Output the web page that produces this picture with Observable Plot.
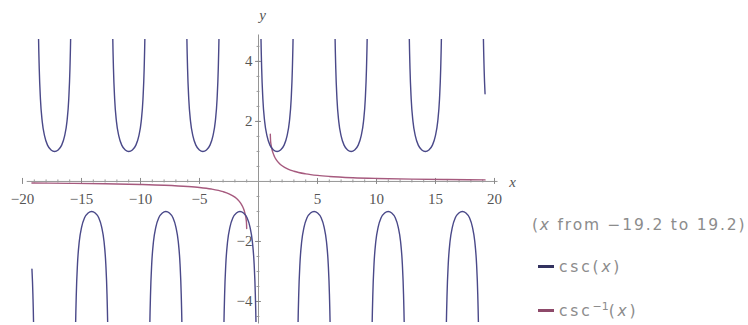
<!DOCTYPE html>
<html>
<head>
<meta charset="utf-8">
<script src="https://cdn.jsdelivr.net/npm/d3@7"></script>
<script src="https://cdn.jsdelivr.net/npm/@observablehq/plot@0.6"></script>
<style>
  html, body { margin: 0; padding: 0; background: #fff; }
  #wrap { position: relative; width: 748px; height: 325px; overflow: hidden; }
  #legend { position: absolute; left: 0; top: 0; font-family: "DejaVu Sans", sans-serif; font-size: 15.5px; color: #8c8c8c; }
  #legend div { position: absolute; white-space: nowrap; line-height: 18px; }
  #legend .range { left: 532px; top: 216px; letter-spacing: 1.8px; }
  #legend .item { left: 538px; letter-spacing: 2.8px; }
  #legend .sw { display: inline-block; width: 16px; height: 3px; vertical-align: middle; margin-right: 5px; position: relative; top: -1px; }
  #legend sup { font-size: 11px; letter-spacing: 0; }
</style>
</head>
<body>
<div id="wrap"></div>
<script>
// csc(x): one arch per half period, given as offsets from the arch centre and |y| values
const archOffset = [0, 0.3, 0.6, 0.85, 1.05, 1.2, 1.3, 1.38, 1.45, 1.52];
const archMagnitude = [1, 1.05, 1.21, 1.52, 2.0, 2.75, 3.75, 5.3, 8.3, 19.7];
const archCentre = [-20.42, -17.28, -14.14, -10.99, -7.85, -4.71, -1.57, 1.57, 4.71, 7.85, 10.99, 14.14, 17.28, 20.42];
const archSign = [-1, 1, -1, 1, -1, 1, -1, 1, -1, 1, -1, 1, -1, 1];
// end points of the plotted x range
const xFrom = -19.2, xTo = 19.2;
const edgeX = [-19.2, 19.2];
const edgeY = [-2.92, 2.92];

// csc^-1(x), for x >= 1 (the x <= -1 branch is its mirror image)
const acscX = [1, 1.02, 1.06, 1.12, 1.2, 1.35, 1.5, 1.75, 2, 2.5, 3, 4, 5, 6, 8, 10, 13, 16, 19.2];
const acscY = [1.571, 1.372, 1.233, 1.105, 0.985, 0.834, 0.730, 0.609, 0.524, 0.412, 0.340, 0.253, 0.201, 0.167, 0.125, 0.100, 0.077, 0.063, 0.052];

// tick labels
const xTicks = [-20, -15, -10, -5, 5, 10, 15, 20];
const yTicks = [-4, -2, 2, 4];
const xMinor = d3.range(-20, 21, 1);
const yMinor = d3.range(-4.5, 4.6, 0.5).filter(v => Math.abs(v) > 0.01);

const cscColor = "#4a4989";
const acscColor = "#a65a7e";
const cscSwatch = "#33325f";
const acscSwatch = "#8e4a6a";

// assemble the csc points arch by arch
const cscPoints = [];
archCentre.forEach((c, i) => {
  const pts = [];
  for (let k = archOffset.length - 1; k >= 0; k--) pts.push({x: c - archOffset[k], y: archSign[i] * archMagnitude[k]});
  for (let k = 1; k < archOffset.length; k++) pts.push({x: c + archOffset[k], y: archSign[i] * archMagnitude[k]});
  const kept = pts.filter(p => p.x >= xFrom && p.x <= xTo);
  edgeX.forEach((ex, j) => {
    if (Math.abs(ex - c) <= Math.PI / 2) kept.push({x: ex, y: edgeY[j]});
  });
  kept.sort((a, b) => a.x - b.x);
  kept.forEach(p => cscPoints.push({...p, arch: i}));
});

const acscPoints = [];
acscX.slice().reverse().forEach((x, k) => acscPoints.push({x: -x, y: -acscY[acscX.length - 1 - k], side: "neg"}));
acscX.forEach((x, k) => acscPoints.push({x, y: acscY[k], side: "pos"}));

const serif = "Liberation Serif, DejaVu Serif, serif";

const chart = Plot.plot({
  width: 748,
  height: 325,
  marginLeft: 22,
  marginRight: 254,
  marginTop: 39,
  marginBottom: 3,
  x: {domain: [-20, 20], axis: null},
  y: {domain: [-4.7, 4.73], axis: null},
  style: {background: "#fff"},
  marks: [
    // axes through the origin
    Plot.ruleY([0], {x1: -19.6, x2: 20.3, stroke: "#959595", strokeWidth: 1}),
    Plot.ruleX([0], {y1: -4.75, y2: 4.88, stroke: "#959595", strokeWidth: 1}),
    Plot.ruleX(xMinor, {x: d => d, y1: -0.05, y2: 0.05, stroke: "#9a9a9a"}),
    Plot.ruleX(xTicks, {x: d => d, y1: -0.1, y2: 0.1, stroke: "#8a8a8a"}),
    Plot.ruleY(yMinor, {y: d => d, x1: -0.12, x2: 0.12, stroke: "#9a9a9a"}),
    Plot.ruleY(yTicks, {y: d => d, x1: -0.25, x2: 0.25, stroke: "#8a8a8a"}),
    Plot.text(xTicks, {x: d => d, y: 0, text: d => d < 0 ? "\u2212" + (-d) : String(d), dy: 18, fontSize: 15, fontFamily: serif, fill: "#555"}),
    Plot.text(yTicks, {x: 0, y: d => d, text: d => d < 0 ? "\u2212" + (-d) : String(d), dx: -6, textAnchor: "end", fontSize: 15, fontFamily: serif, fill: "#555"}),
    Plot.text(["y"], {x: 0, y: 4.73, dx: 4, dy: -24, text: d => d, fontSize: 15, fontStyle: "italic", fontFamily: serif, fill: "#555"}),
    Plot.text(["x"], {x: 20, y: 0, dx: 18, dy: 1, text: d => d, fontSize: 15, fontStyle: "italic", fontFamily: serif, fill: "#555"}),
    // the two curves
    Plot.line(acscPoints, {x: "x", y: "y", z: "side", stroke: acscColor, strokeWidth: 1.4, curve: "monotone-x", clip: true}),
    Plot.line(cscPoints, {x: "x", y: "y", z: "arch", stroke: cscColor, strokeWidth: 1.4, curve: "monotone-x", clip: true})
  ]
});

const wrap = document.getElementById("wrap");
wrap.appendChild(chart);

const legend = document.createElement("div");
legend.id = "legend";
legend.innerHTML =
  '<div class="range">(<i>x</i> from \u221219.2 to 19.2)</div>' +
  '<div class="item" style="top:258px"><span class="sw" style="background:' + cscSwatch + '"></span>csc(<i>x</i>)</div>' +
  '<div class="item" style="top:298px"><span class="sw" style="background:' + acscSwatch + '"></span>csc<sup>\u22121</sup>(<i>x</i>)</div>';
wrap.appendChild(legend);
</script>
</body>
</html>
